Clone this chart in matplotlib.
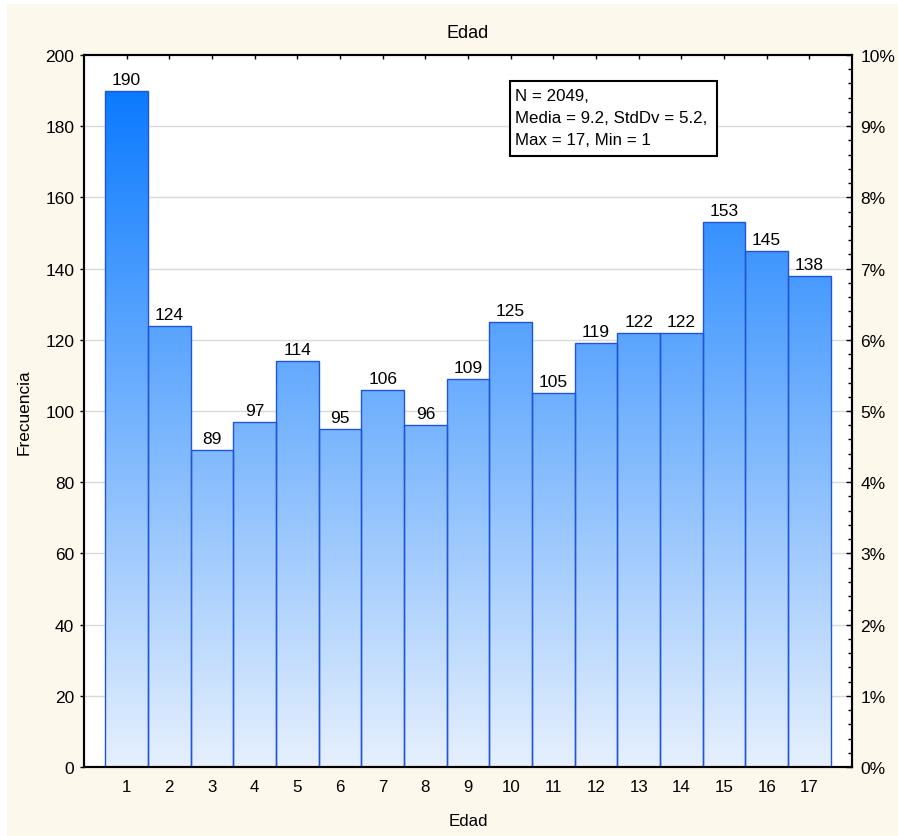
import numpy as np
import matplotlib
matplotlib.use("Agg")
import matplotlib.pyplot as plt
from matplotlib.colors import LinearSegmentedColormap
from matplotlib.patches import Rectangle
from matplotlib.ticker import MultipleLocator, FuncFormatter

plt.rcParams['font.family'] = ['Liberation Sans', 'DejaVu Sans']

# frecuencias por edad
edades = list(range(1, 18))
frecuencias = [190, 124, 89, 97, 114, 95, 106, 96, 109, 125, 105, 119, 122, 122, 153, 145, 138]
resumen = ["N = 2049,", "Media = 9.2, StdDv = 5.2,", "Max = 17, Min = 1"]

fig = plt.figure(figsize=(8.98, 8.37), dpi=100)
fig.patches.append(Rectangle((7 / 898, 0), 1, 1 - 5 / 837, transform=fig.transFigure,
                             facecolor='#FDF8EC', edgecolor='none', zorder=-10))

ax = fig.add_axes([84 / 898, 69 / 837, 768 / 898, 712 / 837])
ax.set_facecolor('white')

for y in range(20, 200, 20):
    ax.axhline(y, color='#DADADA', lw=1, zorder=0)

# degradado vertical comun a todas las barras
cmap = LinearSegmentedColormap.from_list('azul', ['#E6F0FD', '#0074FF'])
grad = np.linspace(0, 1, 256).reshape(-1, 1)
bars = ax.bar(edades, frecuencias, width=1, facecolor='none', edgecolor='#1F55D6', lw=1, zorder=3)
for b in bars:
    im = ax.imshow(grad, cmap=cmap, origin='lower', aspect='auto',
                   extent=(b.get_x(), b.get_x() + b.get_width(), 0, 200), zorder=2)
    im.set_clip_path(b)
ax.set_xlim(0, 18)
ax.set_ylim(0, 200)

for x, v in zip(edades, frecuencias):
    ax.annotate(str(v), (x, v), xytext=(0, 5), textcoords='offset points',
                ha='center', va='baseline', fontsize=12.5, zorder=5)

ax.set_xticks(edades)
ax.yaxis.set_major_locator(MultipleLocator(20))
ax.tick_params(axis='x', direction='in', length=3, width=1, top=True, labelsize=12.2, pad=9)
ax.tick_params(axis='y', direction='out', length=3, width=1, labelsize=12.5, pad=4)
for s in ax.spines.values():
    s.set_linewidth(1.5)

ax2 = ax.twinx()
ax2.set_ylim(0, 10)
ax2.yaxis.set_major_locator(MultipleLocator(1))
ax2.yaxis.set_minor_locator(MultipleLocator(0.2))
ax2.yaxis.set_major_formatter(FuncFormatter(lambda v, p: f"{v:.0f}%"))
ax2.tick_params(axis='y', which='major', direction='in', length=4, width=1, labelsize=12.5, pad=6)
ax2.tick_params(axis='y', which='minor', direction='in', length=3, width=1)
for s in ax2.spines.values():
    s.set_linewidth(1.5)

# cuadro con el resumen
ax.add_patch(Rectangle((0.5547, 0.8585), 0.2695, 0.105, transform=ax.transAxes,
                       facecolor='white', edgecolor='black', lw=1.5, zorder=6))
for i, linea in enumerate(resumen):
    ax.text(0.5612, 0.9425 - i * 0.0309, linea, transform=ax.transAxes,
            fontsize=12.2, va='center', ha='left', zorder=7)

ax.set_title("Edad", fontsize=13, pad=13)
ax.set_xlabel("Edad", fontsize=12.2, labelpad=13)
ax.set_ylabel("Frecuencia", fontsize=12.4, labelpad=10)

fig.savefig("out.png", dpi=100)
